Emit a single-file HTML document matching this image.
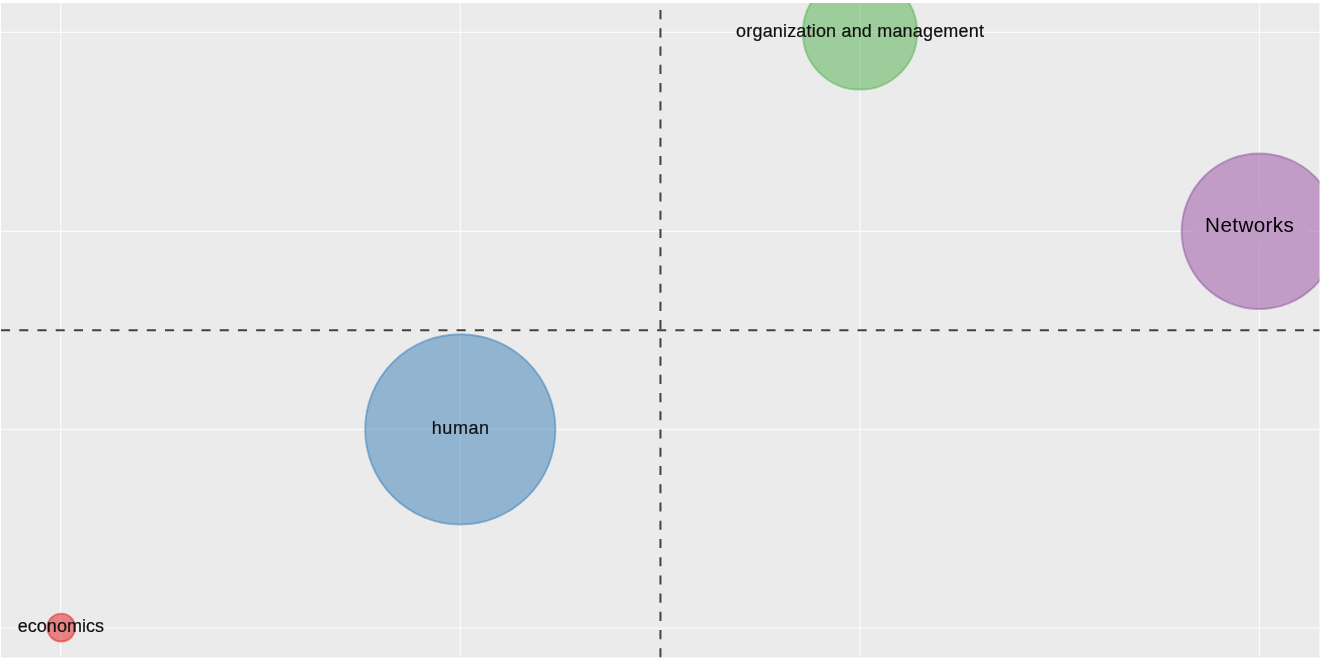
<!DOCTYPE html>
<html lang="en">
<head>
<meta charset="utf-8">
<title>Thematic map</title>
<style>
html,body{margin:0;padding:0;background:#fff;overflow:hidden;}
svg{display:block;}
text{font-family:"Liberation Sans",sans-serif;}
</style>
</head>
<body>
<svg width="1321" height="658" viewBox="0 0 1321 658">
  <defs>
    <clipPath id="panel"><rect x="1" y="3" width="1318.5" height="654.5"/></clipPath>
  </defs>
  <rect x="0" y="0" width="1321" height="658" fill="#ffffff"/>
  <rect x="1" y="3" width="1318.5" height="654.5" fill="#ebebeb"/>
  <g clip-path="url(#panel)">
    <!-- grid -->
    <g stroke="#fbfbfb" stroke-width="1.25" fill="none">
      <line x1="60.7" y1="0" x2="60.7" y2="658"/>
      <line x1="460.3" y1="0" x2="460.3" y2="658"/>
      <line x1="860" y1="0" x2="860" y2="658"/>
      <line x1="1259.4" y1="0" x2="1259.4" y2="658"/>
      <line x1="0" y1="32.4" x2="1321" y2="32.4"/>
      <line x1="0" y1="231.4" x2="1321" y2="231.4"/>
      <line x1="0" y1="429.3" x2="1321" y2="429.3"/>
      <line x1="0" y1="628.1" x2="1321" y2="628.1"/>
    </g>
    <!-- label patch hides the grid under the Networks label -->
    <rect x="1193.8" y="204.8" width="115" height="39.6" fill="#ebebeb"/>
    <!-- bubbles -->
    <circle cx="460.3" cy="429.35" r="95.15" fill="rgba(55,126,184,0.5)" stroke="rgba(55,126,184,0.5)" stroke-width="1.9"/>
    <circle cx="860" cy="32.4" r="57.15" fill="rgba(77,175,74,0.5)" stroke="rgba(77,175,74,0.5)" stroke-width="1.9"/>
    <circle cx="1259.4" cy="231.25" r="77.75" fill="rgba(152,78,163,0.5)" stroke="rgba(140,85,157,0.5)" stroke-width="1.9"/>
    <circle cx="61.2" cy="627.6" r="13.95" fill="rgba(228,26,28,0.5)" stroke="rgba(228,26,28,0.5)" stroke-width="1.9"/>
    <!-- dashed reference lines -->
    <line x1="1" y1="330.3" x2="1321" y2="330.3" stroke="#424242" stroke-width="2" stroke-dasharray="9.1 9.125"/>
    <line x1="660.45" y1="-8.135" x2="660.45" y2="658" stroke="#424242" stroke-width="2" stroke-dasharray="9.1 9.135"/>
    <!-- labels -->
    <g fill="#101010" stroke="#101010" stroke-width="0.2" text-anchor="middle" font-size="18">
      <text x="460.4" y="433.7" textLength="57.2" lengthAdjust="spacing">human</text>
      <text x="860.0" y="36.6" textLength="247.8" lengthAdjust="spacing">organization and management</text>
      <text x="60.9" y="631.7" textLength="86.4" lengthAdjust="spacing">economics</text>
    </g>
    <text x="1249.5" y="232.4" fill="#000" text-anchor="middle" font-size="20.7" textLength="88.8" lengthAdjust="spacing">Networks</text>
  </g>
</svg>
</body>
</html>
